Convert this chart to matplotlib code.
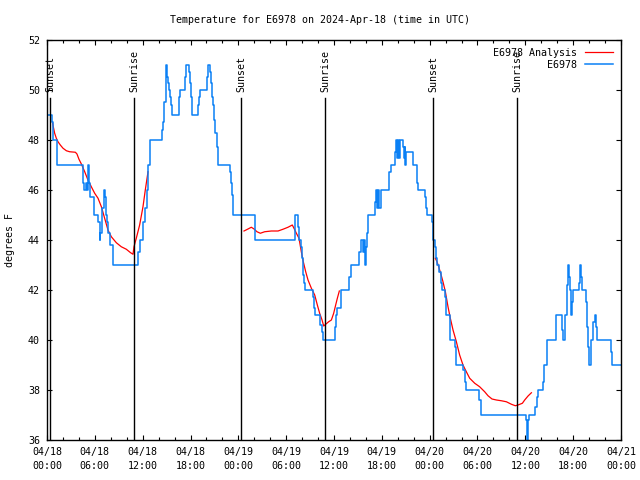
#!/usr/bin/env python

import numpy as np
import matplotlib

matplotlib.use("Agg")
import matplotlib.pyplot as plt

# hours since 2024-04-18 00:00 UTC
tick_hours = list(range(0, 73, 6))
tick_labels = [
    "04/18\n00:00", "04/18\n06:00", "04/18\n12:00", "04/18\n18:00",
    "04/19\n00:00", "04/19\n06:00", "04/19\n12:00", "04/19\n18:00",
    "04/20\n00:00", "04/20\n06:00", "04/20\n12:00", "04/20\n18:00",
    "04/21\n00:00",
]

sunset_hours = [0.38, 24.35, 48.45]
sunrise_hours = [10.95, 34.92, 59.0]

# station observations (step series)
obs_hours = [
    0.0, 0.63, 0.75, 1.25, 4.48, 4.65, 4.9, 5.05, 5.18, 5.3, 5.45, 5.94,
    6.44, 6.6, 6.7, 6.86, 7.11, 7.19, 7.32, 7.44, 7.57, 7.69, 7.86, 8.24,
    11.46, 11.7, 12.0, 12.3, 12.5, 12.7, 12.96, 14.47, 14.59, 14.72, 14.88,
    15.01, 15.14, 15.30, 15.43, 15.55, 15.72, 16.56, 16.68, 17.31, 17.45,
    17.77, 17.94, 18.06, 18.15, 18.23, 18.98, 19.11, 19.23, 20.03, 20.15,
    20.49, 20.61, 20.74, 20.86, 20.95, 21.11, 21.28, 21.41, 21.49, 22.96,
    23.12, 23.25, 23.37, 26.1, 31.1, 31.45, 31.6, 31.8, 31.94, 32.07, 32.2,
    32.32, 33.32, 33.49, 33.62, 34.29, 34.45, 34.58, 36.08, 36.21, 36.42,
    36.92, 37.92, 38.09, 39.18, 39.35, 39.6, 39.75, 39.89, 40.02, 40.18,
    40.31, 41.14, 41.27, 41.4, 41.55, 41.7, 41.86, 42.94, 43.11, 43.65,
    43.8, 43.9, 44.0, 44.15, 44.25, 44.61, 44.75, 44.85, 44.95, 45.05,
    45.87, 46.45, 46.58, 47.42, 47.54, 47.71, 48.25, 48.38, 48.46, 48.67,
    48.79, 48.96, 49.2, 49.38, 49.51, 49.92, 50.05, 50.5, 51.18, 51.31,
    52.23, 52.43, 52.56, 54.23, 54.44, 60.04, 60.17, 60.34, 60.46, 61.21,
    61.42, 61.55, 62.26, 62.39, 62.68, 63.8, 64.56, 64.7, 64.98, 65.19,
    65.27, 65.4, 65.48, 65.6, 65.73, 65.86, 66.02, 66.73, 66.86, 66.98,
    67.15, 67.57, 67.69, 67.82, 67.94, 68.03, 68.28, 68.53, 68.70, 68.82,
    68.94, 70.74, 70.9, 72.0,
]
obs_temps = [
    49.0, 48.7, 48.0, 47.0, 46.3, 46.0, 46.3, 46.0, 47.0, 46.3, 45.7, 45.0,
    44.7, 44.0, 44.3, 45.3, 45.7, 46.0, 45.7, 45.0, 44.7, 44.3, 43.8, 43.0,
    43.5, 44.0, 44.7, 45.3, 46.0, 47.0, 48.0, 48.4, 48.7, 49.5, 51.0,
    50.5, 50.3, 50.0, 49.7, 49.4, 49.0, 49.7, 50.0, 50.5, 51.0,
    50.7, 50.3, 49.7, 49.4, 49.0, 49.4, 49.7, 50.0, 50.5, 51.0,
    50.7, 50.3, 49.7, 49.4, 48.8, 48.3, 47.7, 47.3, 47.0, 46.7,
    46.3, 45.8, 45.0, 44.0, 45.0, 44.5, 44.0, 43.7, 43.3, 42.6, 42.3,
    42.0, 41.7, 41.3, 41.0, 40.6, 40.3, 40.0, 40.5, 41.0, 41.3,
    42.0, 42.5, 43.0, 43.5, 44.0, 43.5, 44.0, 43.0, 43.7, 44.3,
    45.0, 45.5, 46.0, 45.3, 46.0, 45.3, 46.0, 46.7, 47.0, 47.5,
    48.0, 47.3, 48.0, 47.3, 48.0, 47.7, 47.3, 47.7, 47.0, 47.5,
    47.0, 46.3, 46.0, 45.7, 45.3, 45.0, 44.7, 44.3, 44.0, 43.7,
    43.3, 43.0, 42.7, 42.3, 42.0, 41.7, 41.0, 40.0, 39.7, 39.0,
    38.8, 38.3, 38.0, 37.6, 37.0, 36.8, 36.0, 36.8, 37.0, 37.3,
    37.7, 38.0, 38.3, 39.0, 40.0, 41.0, 40.4, 40.0, 41.0, 41.5,
    42.2, 43.0, 42.5, 42.0, 41.0, 41.5, 42.0, 42.3, 43.0, 42.5,
    42.0, 41.5, 40.5, 39.7, 39.3, 39.0, 40.0, 40.7, 41.0, 40.5,
    40.0, 39.5, 39.0, 39.0,
]

# analysis curve, nan marks a gap between runs
analysis_hours = [
    0.67, 0.79, 0.96, 1.17, 1.38, 1.67, 2.01, 2.43, 2.84, 3.56, 3.76, 4.01,
    4.31, 4.73, 5.14, 5.56, 5.98, 6.40, 6.82, 7.23, 7.65, 8.07, 8.70, 9.32,
    9.95, 10.49, 10.79, 10.91, 11.2, 11.62, 12.04, 12.33, 12.67, np.nan,
    24.71, 25.21, 25.63, 25.97, 26.34, 26.76, 27.3, 28.14, 28.98, 29.6,
    30.23, 30.77, 30.98, 31.28, 31.61, 31.9, 32.15, 32.45, 32.74, 33.16,
    33.58, 33.91, 34.2, 34.5, 34.71, 34.96, 35.33, 35.67, 35.96, 36.21,
    36.42, 36.67, np.nan,
    48.71, 48.92, 49.13, 49.38, 49.67, 49.97, 50.3, 50.59, 50.93, 51.35,
    51.76, 52.18, 52.6, 53.02, 53.65, 54.27, 54.9, 55.32, 55.82, 56.37,
    56.99, 57.62, 58.25, 58.75, 59.08, 59.63, 59.92, 60.34, 60.76,
]
analysis_temps = [
    48.73, 48.53, 48.27, 48.07, 47.93, 47.8, 47.67, 47.57, 47.53, 47.51,
    47.44, 47.23, 47.04, 46.73, 46.4, 46.13, 45.87, 45.67, 45.33, 44.87,
    44.4, 44.13, 43.89, 43.73, 43.63, 43.49, 43.43, 43.73, 44.07, 44.6,
    45.33, 46.0, 46.73, np.nan,
    44.36, 44.44, 44.51, 44.44, 44.33, 44.27, 44.33, 44.36, 44.36, 44.43,
    44.51, 44.6, 44.47, 44.27, 44.07, 43.53, 43.13, 42.73, 42.4, 42.07,
    41.8, 41.4, 41.07, 40.8, 40.56, 40.63, 40.73, 40.8, 41.07, 41.4,
    41.67, 41.96, np.nan,
    43.27, 43.13, 42.93, 42.67, 42.33, 41.93, 41.33, 40.87, 40.4, 39.93,
    39.4, 39.0, 38.73, 38.47, 38.27, 38.13, 37.93, 37.77, 37.64, 37.6,
    37.57, 37.53, 37.43, 37.37, 37.4, 37.47, 37.6, 37.76, 37.89,
]

BLUE = "#0a80f5"
RED = "#ff0000"


def draw_sun_marks(ax, hours, label):
    for h in hours:
        ax.axvline(h, ymax=0.855, color="black", lw=1.0)
        ax.text(h, 0.87, label, transform=ax.get_xaxis_transform(),
                rotation=90, ha="center", va="bottom")


def main():
    plt.rcParams["font.family"] = ["DejaVu Sans Mono"]
    plt.rcParams["font.size"] = 7.2

    fig = plt.figure(figsize=(6.4, 4.8), dpi=100)
    ax = fig.add_axes([47 / 640, 40 / 480, 574 / 640, 400 / 480])

    ax.plot(analysis_hours, analysis_temps, color=RED, lw=0.9,
            label="E6978 Analysis")
    ax.step(obs_hours, obs_temps, where="post", color=BLUE, lw=1.1,
            label="E6978")

    draw_sun_marks(ax, sunset_hours, "Sunset")
    draw_sun_marks(ax, sunrise_hours, "Sunrise")

    ax.set_xlim(0, 72)
    ax.set_ylim(36, 52)
    ax.set_xticks(tick_hours)
    ax.set_xticklabels(tick_labels, linespacing=1.5)
    ax.set_xticks(range(0, 73, 2), minor=True)
    ax.set_yticks(range(36, 53, 2))
    ax.tick_params(which="both", direction="in", top=True, right=True,
                   width=0.8)
    ax.tick_params(which="major", length=3.5, pad=5)
    ax.tick_params(which="minor", length=2)
    for s in ax.spines.values():
        s.set_linewidth(1.0)

    ax.legend(loc="upper right", markerfirst=False, frameon=False,
              handlelength=2.8, handletextpad=0.8, labelspacing=0.2,
              borderaxespad=0.4)

    fig.text(0.5, 1 - 20 / 480,
             "Temperature for E6978 on 2024-Apr-18 (time in UTC)",
             ha="center", va="center")
    fig.text(10 / 640, 0.5, "degrees F", rotation=90,
             ha="center", va="center")

    fig.savefig("out.png", dpi=100)


if __name__ == "__main__":
    main()
